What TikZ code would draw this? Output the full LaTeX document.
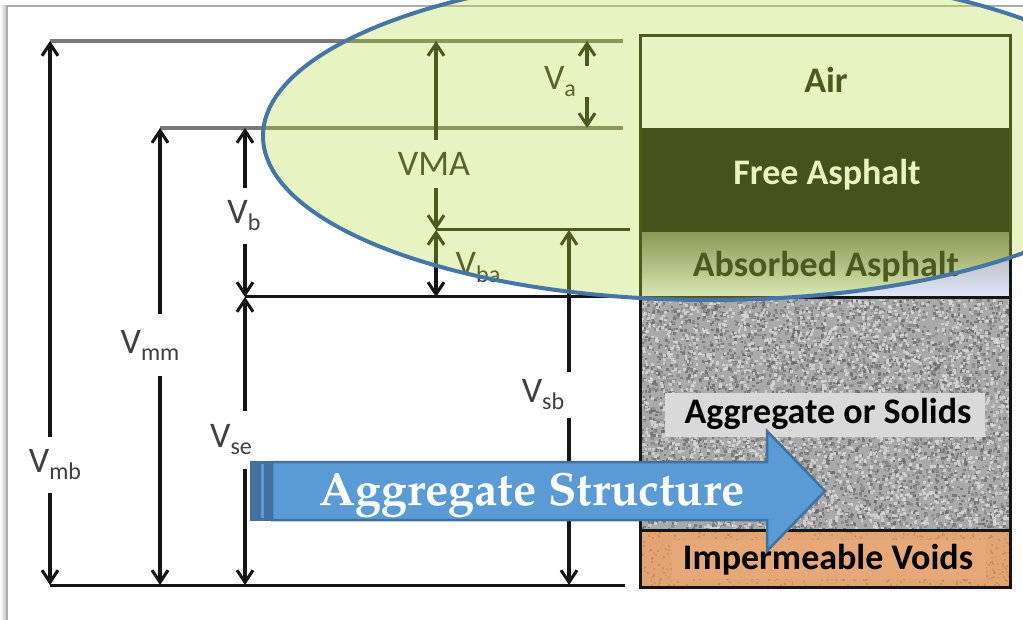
\documentclass[tikz,border=0pt]{standalone}
\usepackage[T1]{fontenc}
\usepackage{fontspec}
\setmainfont{Carlito}
\usetikzlibrary{arrows.meta}
\definecolor{ellfill}{HTML}{E7F4C1}
\definecolor{ellline}{HTML}{4676A6}
\definecolor{olive}{HTML}{4B5A1E}
\definecolor{freeasph}{HTML}{46521C}
\definecolor{olivegray}{HTML}{8A975A}
\definecolor{olivetext}{HTML}{56662B}
\definecolor{olivefr}{HTML}{B3BD8A}
\definecolor{dk}{HTML}{151515}
\definecolor{gl}{HTML}{7A7A7A}
\definecolor{lt}{HTML}{404040}
\definecolor{fr}{HTML}{ABABAB}
\definecolor{arrfill}{HTML}{5B9BD5}
\definecolor{arrline}{HTML}{41719C}
\definecolor{aggbase}{HTML}{A9A9A9}
\definecolor{aggdark}{HTML}{6A6A6A}
\definecolor{aggmid}{HTML}{8E8E8E}
\definecolor{agglight}{HTML}{D8D8D8}
\definecolor{aggbox}{HTML}{D9D9D9}
\definecolor{impbase}{HTML}{E3A473}
\definecolor{impdark}{HTML}{C4844F}
\definecolor{implight}{HTML}{E6A878}
\definecolor{absbot}{HTML}{E0E8FA}
\definecolor{abstop}{HTML}{A8A8A8}
\definecolor{absitop}{HTML}{8A9A58}
\definecolor{absibot}{HTML}{D9E9B2}

\newcommand\pala{\fontencoding{T1}\fontfamily{ppl}\fontseries{b}\fontshape{n}\fontsize{46.5}{46.5}\selectfont}
\newcommand\Vsub[1]{V\raisebox{-7pt}{\fontsize{24}{24}\selectfont #1}}

\tikzset{
 dimarrow/.style={line width=3.1pt, -{Straight Barb[length=12pt,width=16pt]}},
 dimboth/.style={line width=3.1pt, {Straight Barb[length=12pt,width=16pt]}-{Straight Barb[length=12pt,width=16pt]}},
 hline/.style={line width=3pt},
 gline/.style={line width=3.4pt},
 vlab/.style={inner sep=0pt, font=\fontsize{36}{36}\selectfont},
 boxtxt/.style={inner sep=0pt, anchor=base, font=\bfseries\fontsize{36}{36}\selectfont},
}

% #1 suffix, #2 dark line, #3 gray line, #4 label colour, #5 frame colour
\newcommand\dimlayer[5]{%
 \coordinate (fa#1) at (6,6); \coordinate (fb#1) at (1023,6);
 \draw[line width=2pt, draw=#5] (fa#1) -- (fb#1);
 \coordinate (mbT#1) at (50,41);   \coordinate (mbB#1) at (50,585);
 \coordinate (mmT#1) at (160,128); \coordinate (mmB#1) at (160,585);
 \coordinate (bT#1) at (245,128);  \coordinate (bB#1) at (245,297);
 \coordinate (seB#1) at (245,585);
 \coordinate (vmT#1) at (436,41);  \coordinate (vmB#1) at (436,230);
 \coordinate (baB#1) at (436,297);
 \coordinate (aT#1) at (587,41);   \coordinate (aB#1) at (587,128);
 \coordinate (sbT#1) at (569,230); \coordinate (sbB#1) at (569,585);
 \coordinate (ea#1) at (623,41);  \coordinate (eb#1) at (623,128);
 \coordinate (ec#1) at (630,230); \coordinate (ed#1) at (623,297);
 \coordinate (ee#1) at (625,585);
 \draw[gline, draw=#3] (mbT#1) -- (ea#1);
 \draw[gline, draw=#3] (mmT#1) -- (eb#1);
 \draw[hline, draw=#2] (vmB#1) -- (ec#1);
 \draw[hline, draw=#2] (bB#1) -- (ed#1);
 \draw[hline, draw=#2] (mbB#1) -- (ee#1);
 \node[vlab, text=#4, minimum height=56pt] (mb#1) at (55,465) {\Vsub{mb}};
 \node[vlab, text=#4, minimum height=62pt] (mm#1) at (150,345) {\Vsub{mm}};
 \node[vlab, text=#4, minimum height=56pt] (b#1) at (244,216) {\Vsub{b}};
 \node[vlab, text=#4, minimum height=57pt] (se#1) at (231,440) {\Vsub{se}};
 \node[vlab, text=#4, minimum height=48pt] (vma#1) at (434,164) {VMA};
 \node[vlab, text=#4, minimum height=23pt] (a#1) at (560,81.5) {\Vsub{a}};
 \node[vlab, text=#4, minimum height=45pt] (sb#1) at (543,395) {\Vsub{sb}};
 \node[vlab, text=#4] (ba#1) at (478,268) {\Vsub{ba}};
 \draw[dimarrow, draw=#2] (mb#1.north -| mbT#1) -- (mbT#1);
 \draw[dimarrow, draw=#2] (mb#1.south -| mbB#1) -- (mbB#1);
 \draw[dimarrow, draw=#2] (mm#1.north -| mmT#1) -- (mmT#1);
 \draw[dimarrow, draw=#2] (mm#1.south -| mmB#1) -- (mmB#1);
 \draw[dimarrow, draw=#2] (b#1.north -| bT#1) -- (bT#1);
 \draw[dimarrow, draw=#2] (b#1.south -| bB#1) -- (bB#1);
 \draw[dimarrow, draw=#2] (se#1.north -| bB#1) -- (bB#1);
 \draw[dimarrow, draw=#2] (se#1.south -| seB#1) -- (seB#1);
 \draw[dimarrow, draw=#2] (vma#1.north -| vmT#1) -- (vmT#1);
 \draw[dimarrow, draw=#2] (vma#1.south -| vmB#1) -- (vmB#1);
 \draw[dimarrow, draw=#2] (a#1.north -| aT#1) -- (aT#1);
 \draw[dimarrow, draw=#2] (a#1.south -| aB#1) -- (aB#1);
 \draw[dimarrow, draw=#2] (sb#1.north -| sbT#1) -- (sbT#1);
 \draw[dimarrow, draw=#2] (sb#1.south -| sbB#1) -- (sbB#1);
 \draw[dimboth, draw=#2] (vmB#1) -- (baB#1);
}

\begin{document}
\begin{tikzpicture}[x=1pt,y=-1pt]
\useasboundingbox (0,0) rectangle (1023,620);
\clip (0,0) rectangle (1023,620);
\fill[white] (0,0) rectangle (1023,620);
% page frame with shadow
\shade[left color=white, right color=gray!45] (0,6) rectangle (6,620);
\coordinate (fl1) at (6.5,6); \coordinate (fl2) at (6.5,620);
\draw[fr, line width=2pt] (fl1) -- (fl2);

% ---------- outside layer ----------
\dimlayer{o}{dk}{gl}{lt}{fr}

% column (outside colours)
\fill[white] (640,36) rectangle (1010,128);
\fill[freeasph] (640,128) rectangle (1010,233);
\shade[top color=abstop, bottom color=absbot] (640,233) rectangle (1010,298);
\node[boxtxt, text=lt] (abso) at (826,277) {Absorbed Asphalt};
\begin{scope}
 \clip (640,298) rectangle (1010,530);
 \fill[aggbase] (640,298) rectangle (1010,530);
 \pgfmathsetseed{11}
 \foreach \i in {1,...,2600}{\fill[aggdark, opacity=0.75] ({640+370*rnd},{298+232*rnd}) rectangle ++(2.6,2.6);}
 \foreach \i in {1,...,1800}{\fill[aggmid] ({640+370*rnd},{298+232*rnd}) rectangle ++(2.6,2.6);}
 \foreach \i in {1,...,2600}{\fill[agglight, opacity=0.8] ({640+370*rnd},{298+232*rnd}) rectangle ++(2.6,2.6);}
\end{scope}
\fill[aggbox] (665,393) rectangle (985,437);
\node[boxtxt, text=black] (agg) at (828,423) {Aggregate or Solids};
\begin{scope}
 \clip (640,530) rectangle (1010,587);
 \fill[impbase] (640,530) rectangle (1010,587);
 \foreach \i in {1,...,700}{\fill[impdark, opacity=0.6] ({640+370*rnd},{530+57*rnd}) rectangle ++(1.8,1.8);}
 \fill[implight] (672,540) rectangle (986,579);
\end{scope}
\node[boxtxt, text=black] (imp) at (828,569) {Impermeable Voids};
\draw[dk, line width=3pt] (640,298) -- (1010,298);
\draw[dk, line width=3pt] (640,530) -- (1010,530);
\draw[dk, line width=3pt] (640,36) rectangle (1010,587);

% ---------- inside the highlight ellipse ----------
\coordinate (ell) at (710,136);
\begin{scope}
 \clip (ell) ellipse [x radius=447, y radius=164];
 \fill[ellfill] (ell) ellipse [x radius=447, y radius=164];
 \dimlayer{i}{olive}{olivegray}{olivetext}{olivefr}
 \fill[ellfill] (640,36) rectangle (1010,128);
 \fill[freeasph] (640,128) rectangle (1010,233);
 \shade[top color=absitop, bottom color=absibot] (640,233) rectangle (1010,298);
 \node[boxtxt, text=olive] (air) at (826,93) {Air};
 \node[boxtxt, text=ellfill] (free) at (827,185) {Free Asphalt};
 \node[boxtxt, text=olive] (absi) at (826,277) {Absorbed Asphalt};
 \draw[olive, line width=3pt] (640,298) -- (1010,298);
 \draw[olive, line width=3pt] (640,36) rectangle (1010,587);
\end{scope}
\draw[ellline, line width=4pt] (ell) ellipse [x radius=447, y radius=164];

% ---------- Aggregate Structure arrow ----------
\fill[arrline] (250,461) rectangle (272,521);
\draw[arrfill, line width=2.5pt] (262.5,464) -- (262.5,518);
\draw[arrline, fill=arrfill, line width=2.5pt, line join=miter]
  (272,462) -- (767,462) -- (767,431) -- (825,491) -- (767,551) -- (767,520) -- (272,520) -- cycle;
\node[text=white, inner sep=0pt, anchor=base, font=\pala] (as) at (532,505) {Aggregate Structure};
\end{tikzpicture}
\end{document}
